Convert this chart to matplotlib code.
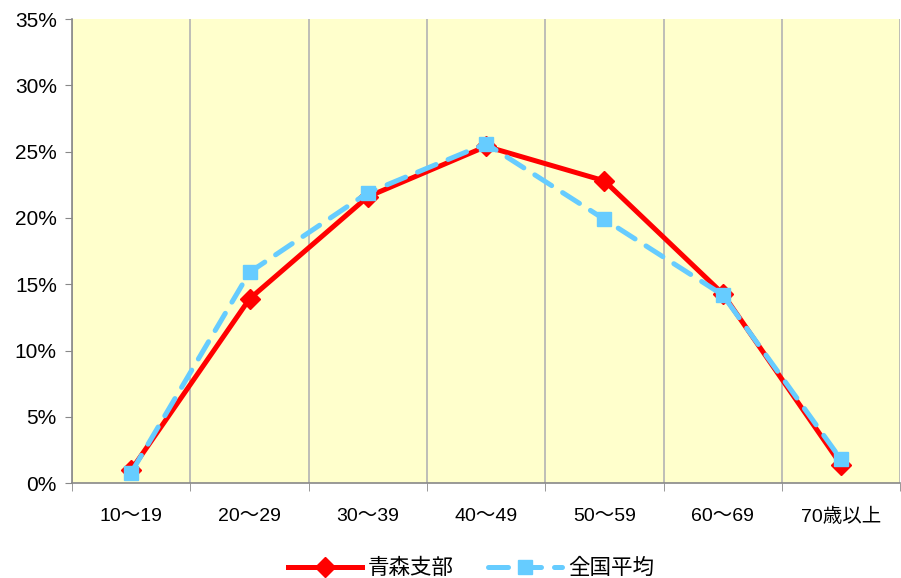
import numpy as np
import matplotlib.pyplot as plt
from matplotlib.ticker import PercentFormatter

plt.rcParams['font.family'] = ['Liberation Sans', 'Noto Sans CJK JP', 'DejaVu Sans']

categories = ['10～19', '20～29', '30～39', '40～49', '50～59', '60～69', '70歳以上']
aomori = [1.0, 13.9, 21.6, 25.4, 22.8, 14.3, 1.4]
zenkoku = [0.8, 15.9, 21.9, 25.6, 19.9, 14.2, 1.8]

fig = plt.figure(figsize=(9.01, 5.78), dpi=100)
ax = fig.add_axes([0.08, 0.164, 0.919, 0.803])
ax.set_facecolor('#FFFFCC')

x = np.arange(len(categories))
ax.plot(x, aomori, color='#FF0000', lw=3.6, marker='D', ms=10,
        label='青森支部', zorder=3)
ax.plot(x, zenkoku, color='#66CCFF', lw=3.6, ls=(0, (4, 2.6)), marker='s', ms=10,
        dash_capstyle='round', label='全国平均', zorder=4)

ax.set_xlim(-0.5, len(categories) - 0.5)
ax.set_ylim(0, 35)
ax.set_yticks(np.arange(0, 36, 5))
ax.yaxis.set_major_formatter(PercentFormatter(decimals=0))
ax.set_xticks(x)
ax.set_xticklabels(categories)
ax.set_xticks(np.arange(-0.5, len(categories)), minor=True)
ax.grid(axis='x', which='minor', color='#B3B3B3', lw=1.2)
ax.tick_params(axis='x', which='major', length=0, pad=18, labelsize=14)
ax.tick_params(axis='x', which='minor', length=6, color='#888888', direction='out')
ax.tick_params(axis='y', length=5, color='#888888', labelsize=15, pad=6)

for s in ['top', 'right']:
    ax.spines[s].set_visible(False)
for s in ['left', 'bottom']:
    ax.spines[s].set_color('#888888')
    ax.spines[s].set_linewidth(1.2)

fig.legend(loc='lower center', ncol=2, frameon=False, fontsize=15.5,
           bbox_to_anchor=(0.523, -0.036), handlelength=3.4, handletextpad=0.3,
           columnspacing=1.6)

fig.savefig('out.png', dpi=100)
